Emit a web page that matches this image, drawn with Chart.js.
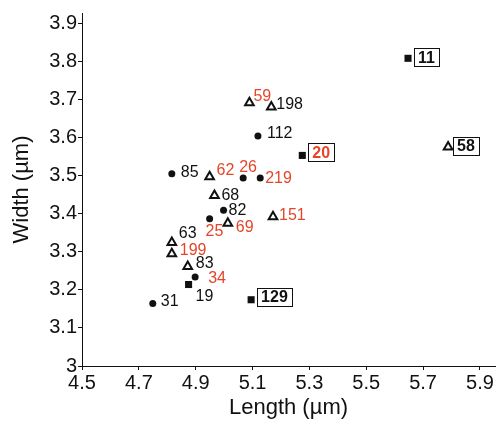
<!DOCTYPE html>
<html>
<head>
<meta charset="utf-8">
<script src="https://cdn.jsdelivr.net/npm/chart.js@4/dist/chart.umd.min.js"></script>
<style>
  html, body { margin: 0; padding: 0; background: #fff; }
  #wrap { width: 504px; height: 421px; }
</style>
</head>
<body>
<div id="wrap"><canvas id="sizeChart" width="504" height="421"></canvas></div>
<script>
// strain measurements
const ids     = ['11', '58', '20', '59', '198', '112', '85', '62', '26', '219', '68', '82',
                 '25', '69', '151', '63', '199', '83', '34', '19', '129', '31'];
const lengths = [5.647, 5.788, 5.275, 5.089, 5.166, 5.119, 4.816, 4.949, 5.067, 5.127, 4.966, 4.998,
                 4.949, 5.013, 5.172, 4.816, 4.816, 4.872, 4.898, 4.875, 5.095, 4.749];
const widths  = [3.808, 3.575, 3.553, 3.691, 3.680, 3.604, 3.505, 3.497, 3.494, 3.494, 3.448, 3.409,
                 3.387, 3.375, 3.392, 3.324, 3.295, 3.261, 3.234, 3.214, 3.174, 3.164];
const shapes  = ['square', 'triangle', 'square', 'triangle', 'triangle', 'circle', 'circle', 'triangle',
                 'circle', 'circle', 'triangle', 'circle', 'circle', 'triangle', 'triangle', 'triangle',
                 'triangle', 'triangle', 'circle', 'square', 'square', 'circle'];
const redIds   = ['20', '59', '62', '26', '219', '25', '69', '151', '199', '34'];
const boxedIds = ['11', '58', '20', '129'];

const xTicks = [4.5, 4.7, 4.9, 5.1, 5.3, 5.5, 5.7, 5.9];
const yTicks = [3.0, 3.1, 3.2, 3.3, 3.4, 3.5, 3.6, 3.7, 3.8, 3.9];

// label placement relative to the point (text left edge, text middle), px
const labelOffsets = {
  '11': [10, -1], '58': [9, -1], '20': [10, -3], '129': [10, -3],
  '59': [4, -7], '198': [5, -3], '112': [9, -3], '85': [9, -2], '62': [7, -7],
  '26': [-4, -11], '219': [5, 0], '68': [7, -1], '82': [5, -1], '25': [-4, 12],
  '69': [8, 3], '151': [6, -2], '63': [7, -10], '199': [8, -4], '83': [8, -4],
  '34': [13, 1], '19': [7, 11], '31': [8, -3]
};

const RED = '#e5452a';
const FONT = '"Liberation Sans", Arial, Helvetica, sans-serif';

function pointsOf(shape) {
  const out = [];
  ids.forEach(function(id, i) {
    if (shapes[i] === shape) out.push({ x: lengths[i], y: widths[i], id: id });
  });
  return out;
}

const pointLabels = {
  id: 'pointLabels',
  afterDatasetsDraw: function(chart) {
    const ctx = chart.ctx;
    const xs = chart.scales.x, ys = chart.scales.y;
    ctx.save();
    ctx.textBaseline = 'middle';
    ctx.textAlign = 'left';
    ids.forEach(function(id, i) {
      const px = xs.getPixelForValue(lengths[i]);
      const py = ys.getPixelForValue(widths[i]);
      const off = labelOffsets[id] || [6, 0];
      const tx = px + off[0], ty = py + off[1];
      const boxed = boxedIds.indexOf(id) >= 0;
      ctx.font = (boxed ? 'bold ' : '') + '16px ' + FONT;
      ctx.fillStyle = redIds.indexOf(id) >= 0 ? RED : '#111';
      ctx.fillText(id, tx, ty + 1);
      if (boxed) {
        const w = ctx.measureText(id).width;
        ctx.strokeStyle = '#111';
        ctx.lineWidth = 1;
        ctx.strokeRect(Math.round(tx - 4) + 0.5, Math.round(ty - 9) + 0.5, Math.round(w + 8), 18);
      }
    });
    ctx.restore();
  }
};

const ctx = document.getElementById('sizeChart').getContext('2d');
const sizeChart = new Chart(ctx, {
  type: 'scatter',
  data: {
    datasets: [{
      data: pointsOf('circle'),
      pointStyle: 'circle',
      pointRadius: 3.5,
      backgroundColor: '#111',
      borderColor: '#111',
      borderWidth: 0
    }, {
      data: pointsOf('triangle'),
      pointStyle: 'triangle',
      pointRadius: 5,
      backgroundColor: '#fff',
      borderColor: '#111',
      borderWidth: 2
    }, {
      data: pointsOf('square'),
      pointStyle: 'rect',
      pointRadius: 5,
      backgroundColor: '#111',
      borderColor: '#111',
      borderWidth: 0
    }]
  },
  options: {
    responsive: false,
    animation: false,
    layout: {
      padding: { left: 0, top: 13, right: 9, bottom: 0 }
    },
    plugins: {
      legend: { display: false },
      tooltip: { enabled: false }
    },
    scales: {
      x: {
        type: 'linear',
        min: 4.5,
        max: 5.953,
        afterBuildTicks: function(scale) {
          scale.ticks = xTicks.map(function(v) { return { value: v }; });
        },
        afterFit: function(scale) { scale.height = 55; },
        grid: {
          drawOnChartArea: false,
          drawTicks: true,
          tickLength: 4,
          color: '#111'
        },
        border: { display: true, color: '#111', width: 1 },
        ticks: {
          autoSkip: false,
          maxRotation: 0,
          padding: 1,
          color: '#111',
          font: { family: FONT, size: 20 },
          callback: function(v) { return Number(v).toFixed(1); }
        },
        title: {
          display: true,
          text: 'Length (µm)',
          color: '#111',
          font: { family: FONT, size: 22 },
          padding: { top: 0, bottom: 0 }
        }
      },
      y: {
        type: 'linear',
        min: 3.0,
        max: 3.927,
        afterBuildTicks: function(scale) {
          scale.ticks = yTicks.map(function(v) { return { value: v }; });
        },
        afterFit: function(scale) { scale.width = 82; },
        grid: {
          drawOnChartArea: false,
          drawTicks: true,
          tickLength: 4,
          color: '#111'
        },
        border: { display: true, color: '#111', width: 1 },
        ticks: {
          autoSkip: false,
          padding: 1,
          color: '#111',
          font: { family: FONT, size: 20 },
          callback: function(v) { return v === 3 ? '3' : Number(v).toFixed(1); }
        },
        title: {
          display: true,
          text: 'Width (µm)',
          color: '#111',
          font: { family: FONT, size: 22 },
          padding: { top: 9, bottom: 0 }
        }
      }
    }
  },
  plugins: [pointLabels]
});
</script>
</body>
</html>
